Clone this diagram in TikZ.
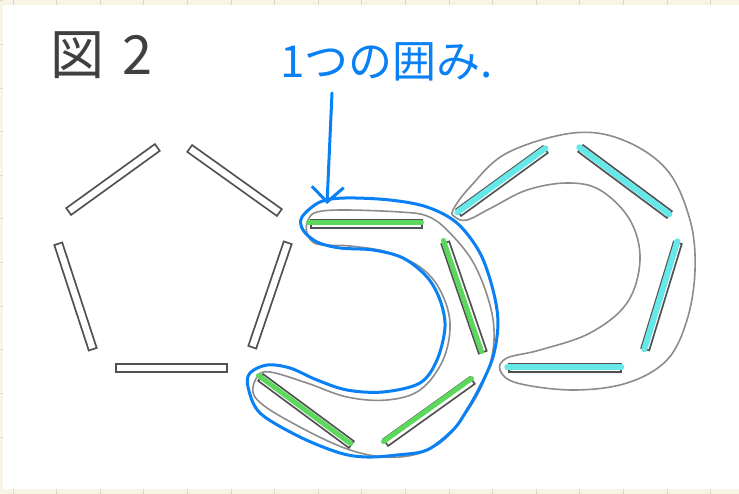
\documentclass[tikz,border=0pt]{standalone}
\usepackage{fontspec}
\newfontfamily\cjk{Noto Sans CJK JP}
\usetikzlibrary{arrows.meta}
\definecolor{paper}{HTML}{F8F5E6}
\definecolor{tick}{HTML}{DDD9C6}
\definecolor{handblue}{HTML}{0A80F5}
\definecolor{barline}{HTML}{505050}
\definecolor{grn}{HTML}{5CD95C}
\definecolor{cyn}{HTML}{66E8E8}
\definecolor{encl}{HTML}{8C8C8C}
\tikzset{
  outerbar/.style={line width=10, barline},
  innerbar/.style={line width=6.4, white, shorten <=1.8, shorten >=1.8},
  greenbar/.style={line width=5, grn, line cap=round},
  cyanbar/.style={line width=6, cyn, line cap=round},
  enclosure/.style={encl, line width=1.6},
  handline/.style={handblue, line width=3, line cap=round, line join=round},
}
\newcommand\stickbar[2]{\draw[outerbar] #1 -- #2; \draw[innerbar] #1 -- #2;}
\newcommand\greenstick[2]{\stickbar{#1}{#2}\draw[greenbar, shift={(-1.5,-1.5)}] #1 -- #2;}
\newcommand\cyanstick[2]{\stickbar{#1}{#2}\draw[cyanbar, shift={(-0.7,-0.7)}] #1 -- #2;}
\begin{document}
\begin{tikzpicture}[x=1pt,y=-1pt]
\useasboundingbox (0,0) rectangle (739,494);
% paper background
\fill[paper] (0,0) rectangle (739,494);
\fill[white] (3,5) rectangle (739,489);
\foreach \i in {0,...,16} {
  \draw[tick, line width=1] ({13+43.6*\i},0) -- ({13+43.6*\i},5);
  \draw[tick, line width=1] ({13+43.6*\i},489) -- ({13+43.6*\i},494);
}
\foreach \j in {0,...,10} {
  \draw[tick, line width=1] (0,{1+43.6*\j}) -- (3,{1+43.6*\j});
}
% title
\node[anchor=west, inner sep=0, text=black!75] (title) at (50,55) {\cjk\fontsize{54}{54}\selectfont 図\,\,2};
% enclosures
\draw[enclosure] plot[smooth cycle, tension=0.6] coordinates {
 (308,220) (317,212) (345,210) (400,212) (427,216) (447,230) (473,262) (490,305) (494,340)
 (487,373) (470,407) (440,443) (400,457) (350,450) (287,420) (255,397) (257,377) (270,372)
 (307,383) (347,397) (387,400) (420,390) (443,360) (450,323) (440,290) (420,267) (387,252)
 (350,246) (317,244) (307,233)};
\draw[enclosure] plot[smooth cycle, tension=0.6] coordinates {
 (453,210) (470,187) (507,153) (573,133) (623,140) (667,170) (690,220) (695,270) (687,320)
 (667,360) (627,383) (573,390) (517,383) (500,370) (507,358) (540,350) (590,333) (627,303)
 (640,260) (630,220) (600,190) (567,183) (527,190) (493,207) (467,220) (455,217)};
% pentagon (white bars)
\stickbar{(68,212)}{(158,147)}
\stickbar{(189,148)}{(280,213)}
\stickbar{(58,243)}{(93,350)}
\stickbar{(288,242)}{(252,348)}
\stickbar{(115,368)}{(228,368)}
% green bars
\greenstick{(310,224)}{(423,224)}
\greenstick{(445,242)}{(483,353)}
\greenstick{(473,380)}{(385,443)}
\greenstick{(260,377)}{(352,445)}
% cyan bars
\cyanstick{(458,213)}{(546,149)}
\cyanstick{(580,148)}{(670,215)}
\cyanstick{(678,242)}{(645,350)}
\cyanstick{(508,368)}{(622,368)}
% blue hand-drawn enclosure
\draw[handline] plot[smooth cycle, tension=0.55] coordinates {
 (302,217) (320,202) (345,198) (390,200) (427,207) (457,223) (480,253) (493,290) (498,323)
 (493,357) (480,387) (467,410) (453,430) (427,450) (397,455) (367,457) (340,453) (300,437)
 (260,413) (248,387) (250,373) (267,365) (290,368) (317,380) (347,390) (383,392) (420,383)
 (437,360) (445,327) (440,300) (427,277) (403,258) (373,250) (340,248) (317,242) (303,230)};
% handwritten label and arrow
\node[anchor=west, inner sep=0, text=handblue] (lbl) at (280,62) {\cjk\fontsize{44}{44}\selectfont 1つの囲み.};
\coordinate (arrS) at (332,93);
\coordinate (arrT) at (327,204);
\draw[handline, -{Straight Barb[length=15,width=32]}] (arrS) -- (arrT);
\end{tikzpicture}
\end{document}
